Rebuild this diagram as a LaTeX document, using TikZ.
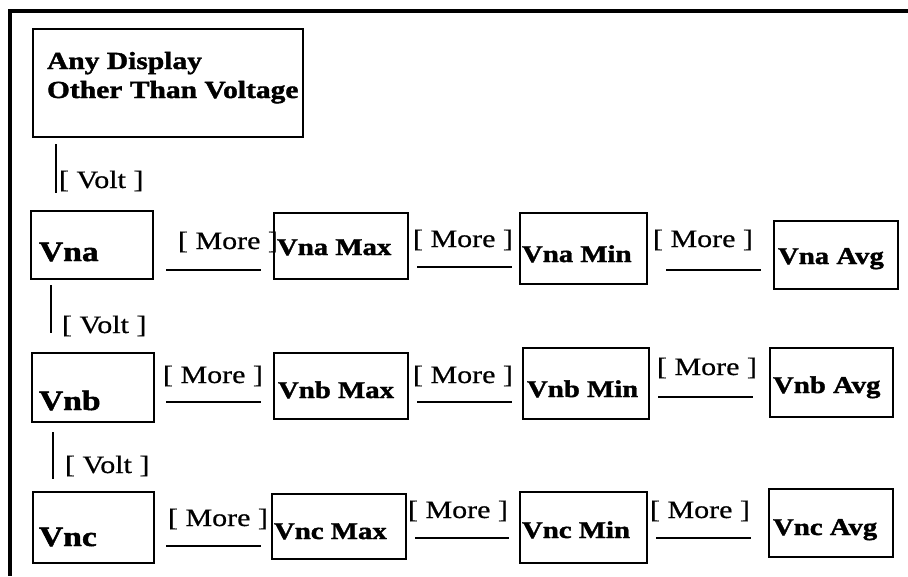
\documentclass[tikz,border=0pt]{standalone}
\usepackage{fontspec}
\setmainfont{Liberation Serif}[FakeStretch=1.2, UprightFeatures={FakeBold=0.6}, BoldFeatures={FakeBold=1.6}]
\begin{document}
\begin{tikzpicture}[x=1pt,y=-1pt,
  boxst/.style={draw=black,line width=2.6pt,rectangle,inner sep=0pt,outer sep=0pt},
  lbl/.style={anchor=base west,inner sep=0pt,outer sep=0pt,font=\fontsize{24}{28}\selectfont\bfseries},
  head/.style={anchor=base west,inner sep=0pt,outer sep=0pt,font=\fontsize{28}{32}\selectfont\bfseries},
  key/.style={anchor=base west,inner sep=0pt,outer sep=0pt,font=\fontsize{25}{29}\selectfont},
  conn/.style={line width=2.8pt,draw=black},
  frame/.style={line width=3.3pt,draw=black}]
\useasboundingbox (0,0) rectangle (908,576);
% frame
\coordinate (ftr) at (908,11);
\coordinate (ftl) at (10,11);
\coordinate (fbl) at (10,576);
\draw[frame] (ftr) -- (ftl) -- (fbl);
% boxes
\node[boxst,minimum width=270pt,minimum height=108pt] (top) at (168,83) {};
\node[boxst,minimum width=122pt,minimum height=68pt] (vna) at (92,245) {};
\node[boxst,minimum width=134pt,minimum height=66pt] (vnamax) at (341,246) {};
\node[boxst,minimum width=127pt,minimum height=71pt] (vnamin) at (583.5,248.5) {};
\node[boxst,minimum width=124pt,minimum height=68pt] (vnaavg) at (836,255) {};
\node[boxst,minimum width=122pt,minimum height=69pt] (vnb) at (93,387.5) {};
\node[boxst,minimum width=134pt,minimum height=66pt] (vnbmax) at (341,386) {};
\node[boxst,minimum width=126pt,minimum height=71pt] (vnbmin) at (586,383.5) {};
\node[boxst,minimum width=123pt,minimum height=69pt] (vnbavg) at (831.5,382.5) {};
\node[boxst,minimum width=121pt,minimum height=71pt] (vnc) at (93.5,527.5) {};
\node[boxst,minimum width=134pt,minimum height=65pt] (vncmax) at (339,526.5) {};
\node[boxst,minimum width=127pt,minimum height=71pt] (vncmin) at (583.5,527.5) {};
\node[boxst,minimum width=124pt,minimum height=68pt] (vncavg) at (831,523) {};
% box texts
\node[lbl,font=\fontsize{24.6}{28}\selectfont\bfseries] (t1) at (47,69) {Any Display};
\node[lbl,font=\fontsize{24.6}{28}\selectfont\bfseries] (t2) at (47,98) {Other Than Voltage};
\node[head] (tvna) at (39,261) {Vna};
\node[lbl] (tvnamax) at (277,255) {Vna Max};
\node[lbl] (tvnamin) at (522,262) {Vna Min};
\node[lbl] (tvnaavg) at (778,264) {Vna Avg};
\node[head] (tvnb) at (39,410) {Vnb};
\node[lbl] (tvnbmax) at (278,398) {Vnb Max};
\node[lbl] (tvnbmin) at (527,397) {Vnb Min};
\node[lbl] (tvnbavg) at (773,393) {Vnb Avg};
\node[head] (tvnc) at (39,546) {Vnc};
\node[lbl] (tvncmax) at (274,539) {Vnc Max};
\node[lbl] (tvncmin) at (522,538) {Vnc Min};
\node[lbl] (tvncavg) at (773,535) {Vnc Avg};
% Volt connectors
\coordinate (v1a) at (56,144); \coordinate (v1b) at (56,193);
\coordinate (v2a) at (51,285); \coordinate (v2b) at (51,333);
\coordinate (v3a) at (53,432); \coordinate (v3b) at (53,479);
\draw[conn] (v1a) -- (v1b);
\draw[conn] (v2a) -- (v2b);
\draw[conn] (v3a) -- (v3b);
\node[key] (k1) at (59,188) {[ Volt ]};
\node[key] (k2) at (62,333) {[ Volt ]};
\node[key] (k3) at (65,473) {[ Volt ]};
% More connectors
\coordinate (a1l) at (166,270); \coordinate (a1r) at (261,270);
\coordinate (a2l) at (417,267); \coordinate (a2r) at (512,267);
\coordinate (a3l) at (666,270); \coordinate (a3r) at (761,270);
\coordinate (b1l) at (166,402); \coordinate (b1r) at (261,402);
\coordinate (b2l) at (417,402); \coordinate (b2r) at (512,402);
\coordinate (b3l) at (658,397); \coordinate (b3r) at (753,397);
\coordinate (c1l) at (166,546); \coordinate (c1r) at (261,546);
\coordinate (c2l) at (415,538); \coordinate (c2r) at (509,538);
\coordinate (c3l) at (656,538); \coordinate (c3r) at (751,538);
\foreach \r in {a,b,c}{\foreach \i in {1,2,3}{\draw[conn] (\r\i l) -- (\r\i r);}}
\node[key] (ma1) at (178,249) {[ More ]};
\node[key] (ma2) at (413,247) {[ More ]};
\node[key] (ma3) at (653,247) {[ More ]};
\node[key] (mb1) at (163,383) {[ More ]};
\node[key] (mb2) at (413,383) {[ More ]};
\node[key] (mb3) at (657,375) {[ More ]};
\node[key] (mc1) at (168,526) {[ More ]};
\node[key] (mc2) at (408,518) {[ More ]};
\node[key] (mc3) at (650,518) {[ More ]};
\end{tikzpicture}
\end{document}
